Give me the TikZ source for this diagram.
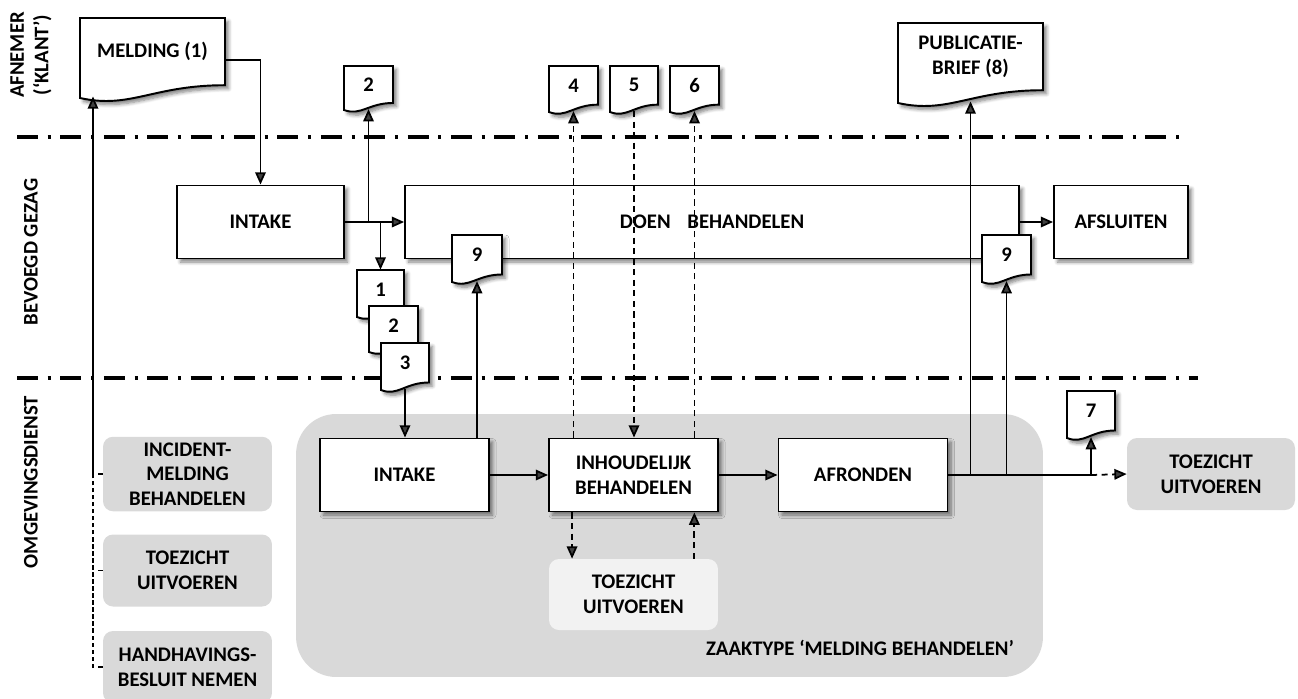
\documentclass[tikz,border=0pt]{standalone}
\usepackage{fontspec}
\setmainfont{Carlito}
\usepackage{tikz}
\usetikzlibrary{arrows.meta,positioning,calc,shadows.blur}
\definecolor{zaakgrey}{RGB}{217,217,217}
\definecolor{toezichtgrey}{RGB}{242,242,242}

% document shape: name, left, top, right, bottom, text
\newcommand{\docnode}[6]{%
  \filldraw[docshape] (#2,#3) -- (#4,#3) -- (#4,{#5-0.16*(#5-#3)})
    .. controls ({#4-0.5*(#4-#2)},{#5-0.16*(#5-#3)}) and ({#2+0.35*(#4-#2)},{#5+0.14*(#5-#3)}) .. (#2,#5) -- cycle;
  \node[doctext, minimum width={(#4-#2)*0.02cm}, minimum height={0.84*(#5-#3)*0.02cm}] (#1) at ({(#2+#4)/2},{#3+0.42*(#5-#3)}) {#6};
  \coordinate (#1-s) at ({(#2+#4)/2},{#5-0.02*(#5-#3)});
}

\begin{document}
\begin{tikzpicture}[
    x=0.02cm, y=-0.02cm,
    font=\bfseries\fontsize{11.8}{14}\selectfont,
    shadowed/.style={blur shadow={shadow xshift=2pt, shadow yshift=-2pt, shadow blur radius=2pt, shadow blur steps=6, shadow opacity=50}},
    process/.style={draw, fill=white, line width=1.1pt, minimum width=3.38cm, minimum height=1.46cm, align=center, shadowed},
    subprocess/.style={fill=zaakgrey, rounded corners=0.2cm, minimum width=3.38cm, minimum height=1.44cm, align=center},
    docshape/.style={draw, fill=white, line width=1.1pt, shadowed},
    doctext/.style={inner sep=0pt, align=center},
    conn/.style={line width=1pt, -{Triangle[length=7pt, width=6pt]}},
    dconn/.style={conn, dash pattern=on 3.5pt off 2.5pt},
    laneline/.style={line width=2.2pt, dash pattern=on 12pt off 5.5pt on 1.7pt off 5.5pt},
    lanelabel/.style={rotate=90, align=center}
]
\useasboundingbox (0,0) rectangle (1298,698);

% Swimlane labels
\node[lanelabel] (afnemer) at (31,55) {AFNEMER\\(‘KLANT’)};
\node[lanelabel] (bevoegd) at (31,252) {BEVOEGD GEZAG};
\node[lanelabel] (omgeving) at (31,482) {OMGEVINGSDIENST};

% Zaaktype container
\node[fill=zaakgrey, rounded corners=0.8cm, minimum width=14.94cm, minimum height=5.26cm] (zaaktype) at (669.5,545.5) {};
\node (zaaklabel) at (860,648) {ZAAKTYPE ‘MELDING BEHANDELEN’};

% Bevoegd gezag
\node[process, minimum width=3.34cm] (intakeA) at (260.5,222) {INTAKE};
\node[process, minimum width=12.28cm] (doen) at (712,222) {DOEN\hspace{9.5pt}BEHANDELEN};
\node[process, minimum width=2.68cm] (afsluiten) at (1121,222) {AFSLUITEN};

% Omgevingsdienst
\node[process] (intakeB) at (404.5,475) {INTAKE};
\node[process] (inhoud) at (633.5,475) {INHOUDELIJK\\BEHANDELEN};
\node[process] (afronden) at (863,475) {AFRONDEN};
\node[subprocess, fill=toezichtgrey, minimum height=1.42cm] (toezichtI) at (633.5,594.5) {TOEZICHT\\UITVOEREN};
\node[subprocess, minimum width=3.36cm] (toezichtR) at (1211,474) {TOEZICHT\\UITVOEREN};

% Other zaaktypes on the left
\node[subprocess] (incident) at (187.5,474) {INCIDENT-\\MELDING\\BEHANDELEN};
\node[subprocess] (toezichtL) at (187.5,570.5) {TOEZICHT\\UITVOEREN};
\node[subprocess] (handhaving) at (187.5,667) {HANDHAVINGS-\\BESLUIT NEMEN};

% Lane separators
\draw[laneline] (17,137) -- (1185,137);
\draw[laneline] (17,378) -- (1198,378);

% Documents
\docnode{melding}{80}{18}{225}{98}{MELDING (1)}
\docnode{publicatie}{898}{23}{1043}{103}{PUBLICATIE-\\BRIEF (8)}
\docnode{doc2}{344}{66}{393}{110}{2}
\docnode{doc4}{549}{66}{598}{112}{4}
\docnode{doc5}{610}{66}{658}{112}{5}
\docnode{doc6}{670}{66}{719}{112}{6}
\docnode{doc9a}{452}{235}{502}{282}{9}
\docnode{doc9b}{982}{235}{1031}{282}{9}
\docnode{doc1}{357}{270}{404}{317}{1}
\docnode{doc2b}{369}{306}{418}{352}{2}
\docnode{doc3}{381}{343}{429}{390}{3}
\docnode{doc7}{1067}{391}{1115}{438}{7}

% Flow in bevoegd gezag
\draw[conn] ([yshift=-0.17cm]melding.east) -| (intakeA.north);
\draw[conn] (intakeA.east) -- (doen.west);
\draw[conn] (intakeA.east -| doc2-s) -- (doc2-s);
\draw[conn] (intakeA.east -| doc1.north) -- (doc1.north);
\draw[conn] (doen.east) -- (afsluiten.west);

% Flow in omgevingsdienst
\draw[conn] (doc3-s) -- (doc3-s |- intakeB.north);
\draw[conn] (intakeB.north -| doc9a-s) -- (doc9a-s);
\draw[conn] (intakeB.east) -- (inhoud.west);
\draw[conn] (inhoud.east) -- (afronden.west);
\coordinate (split) at (doc7-s |- afronden.east);
\draw[line width=1pt] (afronden.east) -- (split);
\draw[dconn] (split) -- (toezichtR.west);
\draw[conn] (split) -- (doc7-s);
\draw[conn] (afronden.east -| publicatie-s) -- (publicatie-s);
\draw[conn] (afronden.east -| doc9b-s) -- (doc9b-s);

% Dashed exchanges with inhoudelijk behandelen
\draw[dconn] (inhoud.north -| doc4-s) -- (doc4-s);
\draw[dconn] (doc5-s) -- (doc5-s |- inhoud.north);
\draw[dconn] (inhoud.north -| doc6-s) -- (doc6-s);
\draw[dconn] ([xshift=0.48cm]inhoud.south west) -- ([xshift=0.48cm]inhoud.south west |- toezichtI.north);
\draw[dconn] ([xshift=-0.48cm]toezichtI.north east) -- ([xshift=-0.48cm]toezichtI.north east |- inhoud.south);

% Link from the left zaaktypes back to the melding
\coordinate (lv) at (93,668);
\draw[line width=1pt, dash pattern=on 2.5pt off 1.5pt] (lv) -- (lv |- incident.west);
\draw[conn] (lv |- incident.west) -- (lv |- melding-s);
\draw[line width=1pt, dash pattern=on 3pt off 3pt, dash phase=3pt] (lv |- incident.west) -- (incident.west);
\draw[line width=1pt, dash pattern=on 3pt off 3pt, dash phase=3pt] (lv |- toezichtL.west) -- (toezichtL.west);
\draw[line width=1pt, dash pattern=on 3pt off 3pt, dash phase=3pt] (lv |- handhaving.west) -- (handhaving.west);
\end{tikzpicture}
\end{document}
